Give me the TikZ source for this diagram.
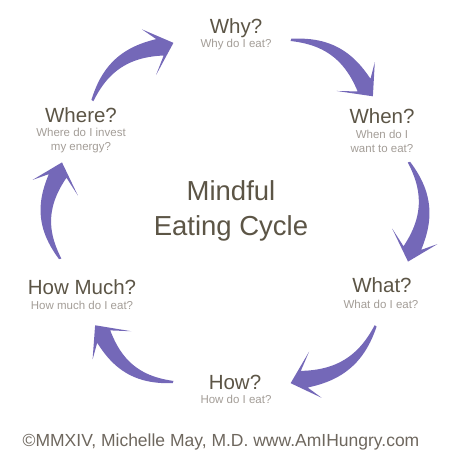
\documentclass[tikz,border=0pt]{standalone}
\usepackage{fontspec}
\setmainfont{Liberation Sans}
\definecolor{arrowpurple}{HTML}{7468B8}
\definecolor{titlebrown}{HTML}{5C5546}
\definecolor{subgrey}{HTML}{A39D97}
\definecolor{notegrey}{HTML}{6E675E}

\begin{document}
\begin{tikzpicture}[x=1pt,y=-1pt]
\tikzstyle{stage}=[text=titlebrown, font=\fontsize{20.5}{22}\selectfont, inner sep=0pt]
\tikzstyle{question}=[text=subgrey, font=\fontsize{11.5}{14}\selectfont, align=center, inner sep=0pt]
\tikzstyle{cyclearrow}=[fill=arrowpurple]

\useasboundingbox (0,0) rectangle (467,454);

\draw (236,28) node[stage] (why) {Why?};
\draw (236,45) node[question] (whyq) {Why do I eat?};
\draw (382,116) node[stage] (when) {When?};
\draw (382,141) node[question] (whenq) {When do I\\want to eat?};
\draw (382,285) node[stage] (what) {What?};
\draw (381,304) node[question] (whatq) {What do I eat?};
\draw (235,382) node[stage] (how) {How?};
\draw (236,399) node[question] (howq) {How do I eat?};
\draw (82,287) node[stage] (howmuch) {How Much?};
\draw (82,305) node[question] (howmuchq) {How much do I eat?};
\draw (81,115) node[stage] (where) {Where?};
\draw (81,141) node[question] (whereq) {Where do I invest\\my energy?};

\draw (231,211) node[text=titlebrown, font=\fontsize{27.5}{35}\selectfont, align=center] (title) {Mindful\\Eating Cycle};
\draw (221,442) node[text=notegrey, font=\fontsize{17.5}{20}\selectfont] (credit) {©MMXIV, Michelle May, M.D. www.AmIHungry.com};

% arrows round the cycle
\coordinate (centre) at (235,212);
\begin{scope}[shift={(centre)}, y=1pt]
\foreach \tail/\tip in {142/110, 72/40, 16/-16, -39/-72, -110/-141, 195/164} {
  \pgfmathsetmacro\neck{\tip+4.5}
  \pgfmathsetmacro\outbarb{\tip+7}
  \pgfmathsetmacro\inbarb{\tip+10}
  \fill[cyclearrow] plot[domain=\tail:\neck, samples=25]
      (\x:{181+8*sin(180*(\tail-\x)/(\tail-\neck))+1.2+7.8*(\tail-\x)/(\tail-\neck)})
    -- (\outbarb:205) -- (\tip:180) -- (\inbarb:158)
    -- plot[domain=\neck:\tail, samples=25]
      (\x:{181+8*sin(180*(\tail-\x)/(\tail-\neck))-1.2-7.8*(\tail-\x)/(\tail-\neck)}) -- cycle;
}
\end{scope}
\end{tikzpicture}
\end{document}
